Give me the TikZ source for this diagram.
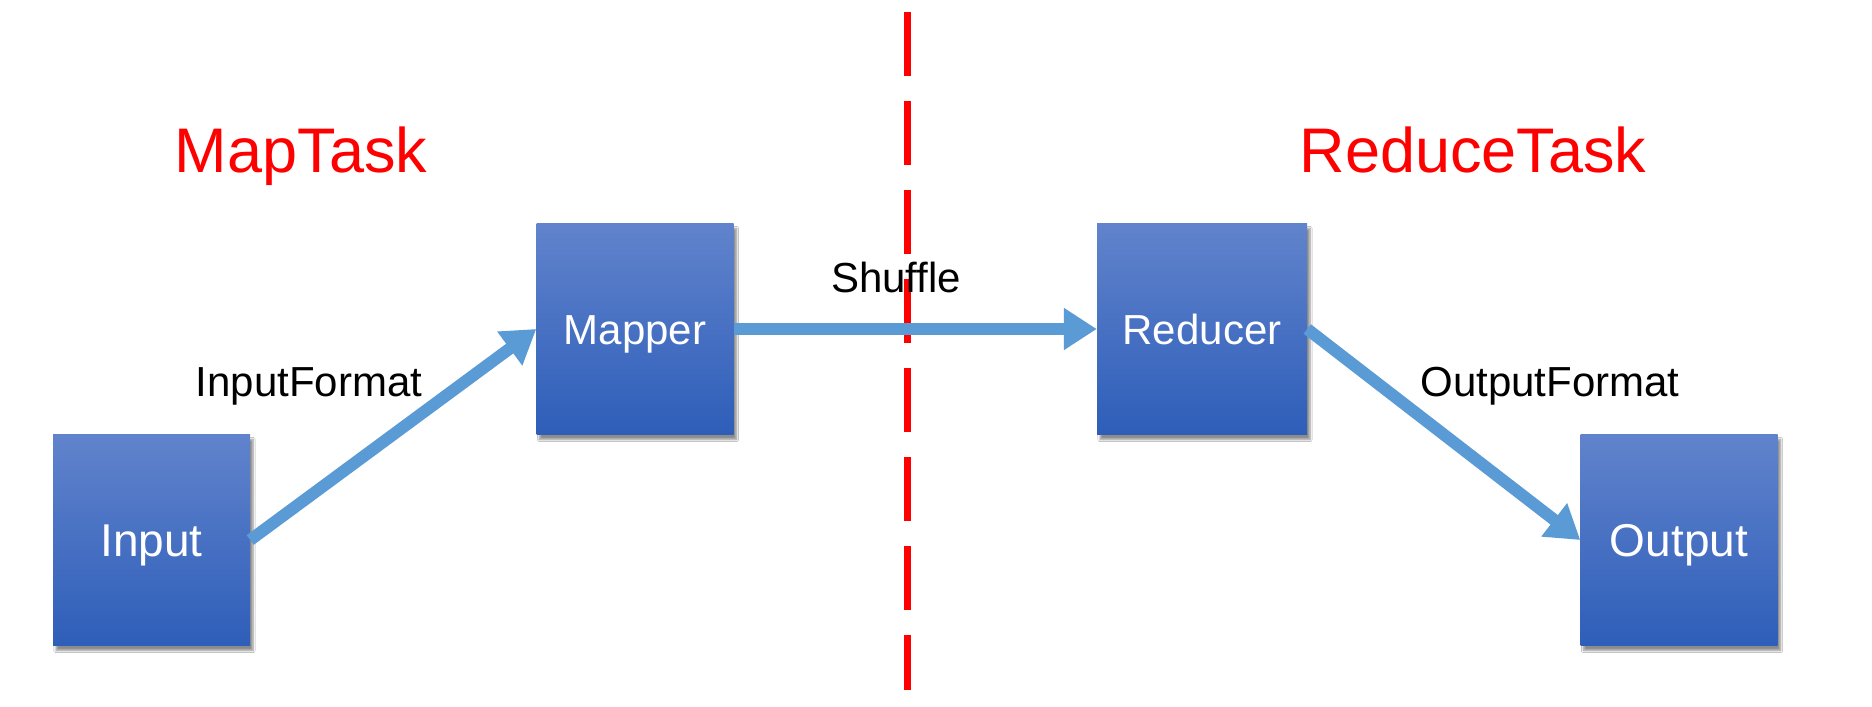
\documentclass[tikz,border=0pt]{standalone}
\usepackage{fontspec}
\setmainfont{Liberation Sans}
\usetikzlibrary{arrows.meta,shadows.blur}
\definecolor{boxtop}{RGB}{97,131,204}
\definecolor{boxbot}{RGB}{46,94,185}
\definecolor{arrowblue}{RGB}{91,155,213}
\definecolor{taskred}{RGB}{255,0,0}
\tikzset{
  box/.style={rectangle, minimum width=197pt, minimum height=211pt, inner sep=0pt,
    top color=boxtop, bottom color=boxbot, draw=none, text=white, text depth=0pt,
    blur shadow={shadow xshift=3pt, shadow yshift=-5pt, shadow blur steps=6, shadow opacity=45}},
  bigtxt/.style={font=\fontsize{46}{55}\selectfont, text height=33pt},
  midtxt/.style={font=\fontsize{42}{50}\selectfont, text height=30pt},
  flow/.style={line width=12pt, draw=arrowblue, -{Triangle[length=33pt,width=40pt]}, shorten <=0pt},
  lbl/.style={anchor=base, inner sep=0pt, font=\fontsize{42}{50}\selectfont},
  task/.style={anchor=base, inner sep=0pt, text=taskred, font=\fontsize{63}{75}\selectfont},
}
\begin{document}
\begin{tikzpicture}[x=1pt,y=-1pt]
\useasboundingbox (0,0) rectangle (1872,707);
\fill[white] (0,0) rectangle (1872,707);
% dashed divider
\coordinate (dtop) at (907,12);
\coordinate (dbot) at (907,690);
\draw[taskred, line width=7pt, dash pattern=on 64pt off 25pt] (dtop) -- (dbot);
% boxes
\node[box, bigtxt] (input) at (151.5,540) {Input};
\node[box, midtxt] (mapper) at (635,329) {Mapper};
\node[box, midtxt, minimum width=210pt] (reducer) at (1202,329) {Reducer};
\node[box, bigtxt] (output) at (1679,540) {Output};
% labels
\node[task] (maptask) at (301,172) {MapTask};
\node[task] (reducetask) at (1473,172) {ReduceTask};
\node[lbl] (shuffle) at (896,292) {Shuffle};
\node[lbl] (inputformat) at (309,396) {InputFormat};
\node[lbl] (outputformat) at (1550,396) {OutputFormat};
% connectors
\draw[flow] (input.east) -- (mapper.west);
\draw[flow] (mapper.east) -- (reducer.west);
\draw[flow] (reducer.east) -- (output.west);
\end{tikzpicture}
\end{document}
